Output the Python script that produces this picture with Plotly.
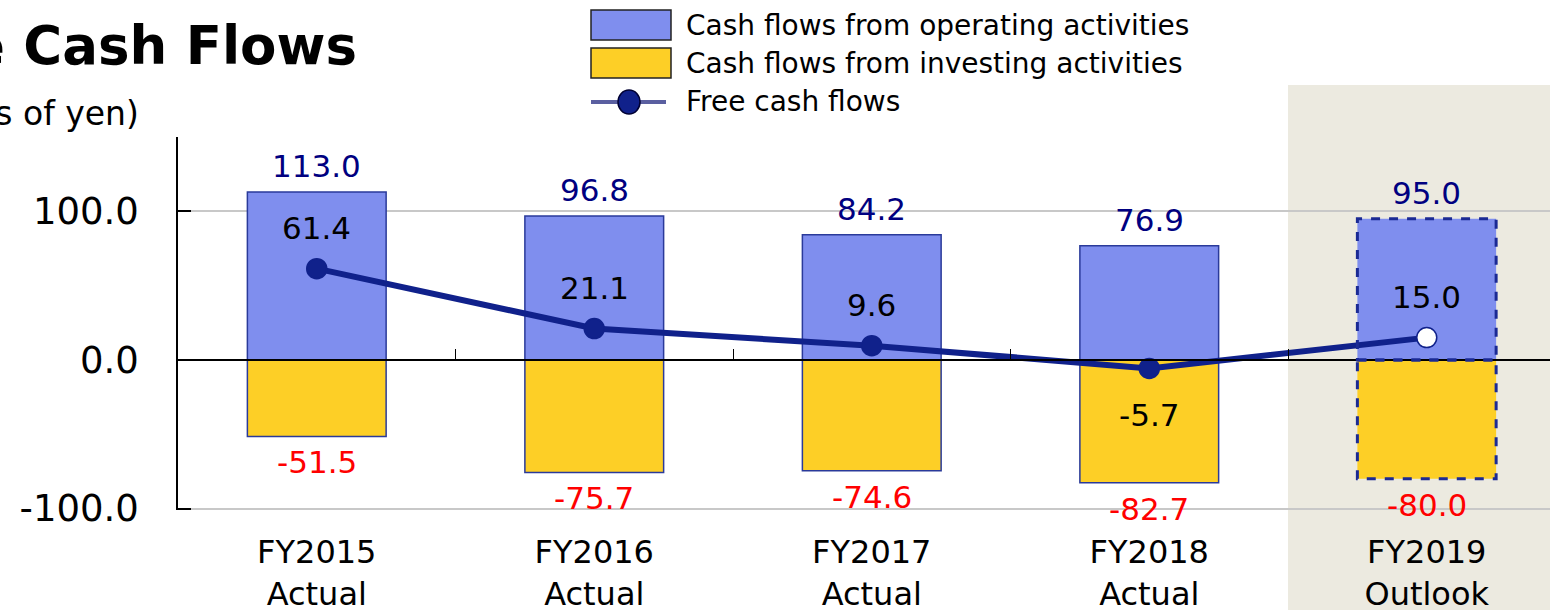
import plotly.graph_objects as go

# ---------------- data ----------------
categories = ["FY2015", "FY2016", "FY2017", "FY2018", "FY2019"]
sublabels = ["Actual", "Actual", "Actual", "Actual", "Outlook"]
operating = [113.0, 96.8, 84.2, 76.9, 95.0]
investing = [-51.5, -75.7, -74.6, -82.7, -80.0]
free_cf = [61.4, 21.1, 9.6, -5.7, 15.0]
outlook_flags = [False, False, False, False, True]
y_ticks = [-100, 0, 100]

# ---------------- styles ----------------
FONT = "DejaVu Sans"
BLUE = "#7F8EEE"
YELLOW = "#FDCF26"
EDGE = "#2A3A9A"
NAVY = "#10218B"
LABEL_NAVY = "#000080"
SHADE = "#ECEAE0"
BAR_W = 0.5
Y_RANGE = [-101, 150]

# pixel geometry helpers (paper coordinates)
W, H = 1550, 610
ML, MR, MT, MB = 178, 0, 137, 100
PW, PH = W - ML - MR, H - MT - MB


def px(x):
    return (x - ML) / PW


def py(y):
    return (H - MB - y) / PH


xs = list(range(len(categories)))
ticktext = [f"{c}<br>{s}" for c, s in zip(categories, sublabels)]
zero_pos = (0 - Y_RANGE[0]) / (Y_RANGE[1] - Y_RANGE[0])

fig = go.Figure()

fig.add_trace(go.Bar(
    x=xs, y=operating, width=BAR_W, name="Cash flows from operating activities",
    marker=dict(color=BLUE,
                line=dict(color=EDGE, width=[0 if f else 1.5 for f in outlook_flags])),
    showlegend=False, hoverinfo="skip",
))
fig.add_trace(go.Bar(
    x=xs, y=investing, width=BAR_W, name="Cash flows from investing activities",
    marker=dict(color=YELLOW,
                line=dict(color=EDGE, width=[0 if f else 1.5 for f in outlook_flags])),
    showlegend=False, hoverinfo="skip",
))
fig.add_trace(go.Scatter(
    x=xs, y=free_cf, mode="lines+markers", name="Free cash flows",
    xaxis="x2",
    line=dict(color=NAVY, width=6),
    marker=dict(size=20, color=["white" if f else NAVY for f in outlook_flags],
                line=dict(color=NAVY, width=1.5)),
    showlegend=False, hoverinfo="skip",
))

annotations = []
shapes = []

# outlook shading
for x, f in zip(xs, outlook_flags):
    if f:
        shapes.append(dict(type="rect", xref="x", yref="paper",
                           x0=x - 0.5, x1=x + 0.5, y0=-1, y1=py(85),
                           fillcolor=SHADE, line=dict(width=0), layer="below"))
        # dashed outlines for outlook bars
        for val in (operating[x], investing[x]):
            shapes.append(dict(type="rect", xref="x", yref="y",
                               x0=x - BAR_W / 2, x1=x + BAR_W / 2, y0=0, y1=val,
                               line=dict(color="#1B2A94", width=3, dash="dash"),
                               fillcolor="rgba(0,0,0,0)", layer="above"))

# value labels
for x, o, i, fc in zip(xs, operating, investing, free_cf):
    annotations.append(dict(x=x, y=o, xref="x", yref="y", text=f"{o:.1f}",
                            showarrow=False, yanchor="middle", yshift=26,
                            font=dict(family=FONT, size=31, color=LABEL_NAVY)))
    annotations.append(dict(x=x, y=i, xref="x", yref="y", text=f"{i:.1f}",
                            showarrow=False, yanchor="middle", yshift=-26,
                            font=dict(family=FONT, size=31, color="#FF0000")))
    annotations.append(dict(x=x, y=fc, xref="x", yref="y", text=f"{fc:.1f}",
                            showarrow=False, yanchor="middle",
                            yshift=41 if fc >= 0 else -47,
                            font=dict(family=FONT, size=31, color="black")))

# title and unit
annotations.append(dict(x=px(359), y=py(45), xref="paper", yref="paper",
                        text="<b>Free Cash Flows</b>", showarrow=False,
                        xanchor="right", yanchor="middle",
                        font=dict(family=FONT, size=53, color="black")))
annotations.append(dict(x=px(141), y=py(114), xref="paper", yref="paper",
                        text="(Billions of yen)", showarrow=False,
                        xanchor="right", yanchor="middle",
                        font=dict(family=FONT, size=33, color="black")))

# custom legend
legend_items = [
    ("Cash flows from operating activities", "bar", BLUE),
    ("Cash flows from investing activities", "bar", YELLOW),
    ("Free cash flows", "line", NAVY),
]
row_y = [25, 63, 102]
for (label, kind, color), ry in zip(legend_items, row_y):
    if kind == "bar":
        shapes.append(dict(type="rect", xref="paper", yref="paper",
                           x0=px(591), x1=px(671), y0=py(ry - 15), y1=py(ry + 15),
                           fillcolor=color, line=dict(color="#222222", width=1.5)))
    else:
        shapes.append(dict(type="line", xref="paper", yref="paper",
                           x0=px(591), x1=px(666), y0=py(ry), y1=py(ry),
                           line=dict(color="#5A5FA0", width=4)))
        shapes.append(dict(type="circle", xref="paper", yref="paper",
                           xsizemode="pixel", ysizemode="pixel",
                           xanchor=px(629), yanchor=py(ry),
                           x0=-11, x1=11, y0=-12, y1=12,
                           fillcolor=NAVY, line=dict(color="#000033", width=1.5)))
    annotations.append(dict(x=px(684), y=py(ry), xref="paper", yref="paper",
                            text=label, showarrow=False,
                            xanchor="left", yanchor="middle",
                            font=dict(family=FONT, size=28, color="black")))

x_range = [-0.5, -0.5 + PW / 277.5]

fig.update_layout(
    width=W, height=H,
    margin=dict(l=ML, r=MR, t=MT, b=MB, pad=0, autoexpand=False),
    paper_bgcolor="white", plot_bgcolor="rgba(0,0,0,0)",
    barmode="relative", bargap=0.5,
    font=dict(family=FONT, color="black"),
    showlegend=False,
    shapes=shapes, annotations=annotations,
    xaxis=dict(range=x_range, tickvals=xs, ticktext=ticktext, automargin=False,
               showgrid=False, zeroline=False, showline=False, ticks="",
               ticklabelstandoff=20,
               tickfont=dict(family=FONT, size=32, color="black")),
    xaxis2=dict(matches="x", overlaying="x", anchor="free", position=zero_pos,
                side="bottom", showline=True, linecolor="black", linewidth=1.5,
                ticks="inside", ticklen=10, tickwidth=1.2, tickcolor="black",
                tickvals=[x + 0.5 for x in xs[:-1]], showticklabels=False,
                showgrid=False, zeroline=False, automargin=False),
    yaxis=dict(range=Y_RANGE, tickvals=y_ticks, automargin=False,
               ticktext=[f"{v:.1f}" for v in y_ticks],
               showgrid=True, gridcolor="#C8C8C8", gridwidth=2,
               zeroline=False, showline=True, linecolor="black", linewidth=1.5,
               ticks="inside", ticklen=13, tickwidth=1.5, tickcolor="black",
               ticklabelstandoff=30,
               tickfont=dict(family=FONT, size=37, color="black")),
)

fig.write_html("out.html", config={"displayModeBar": False},
               post_script="document.body.style.margin='0px';document.body.style.overflow='hidden';")
